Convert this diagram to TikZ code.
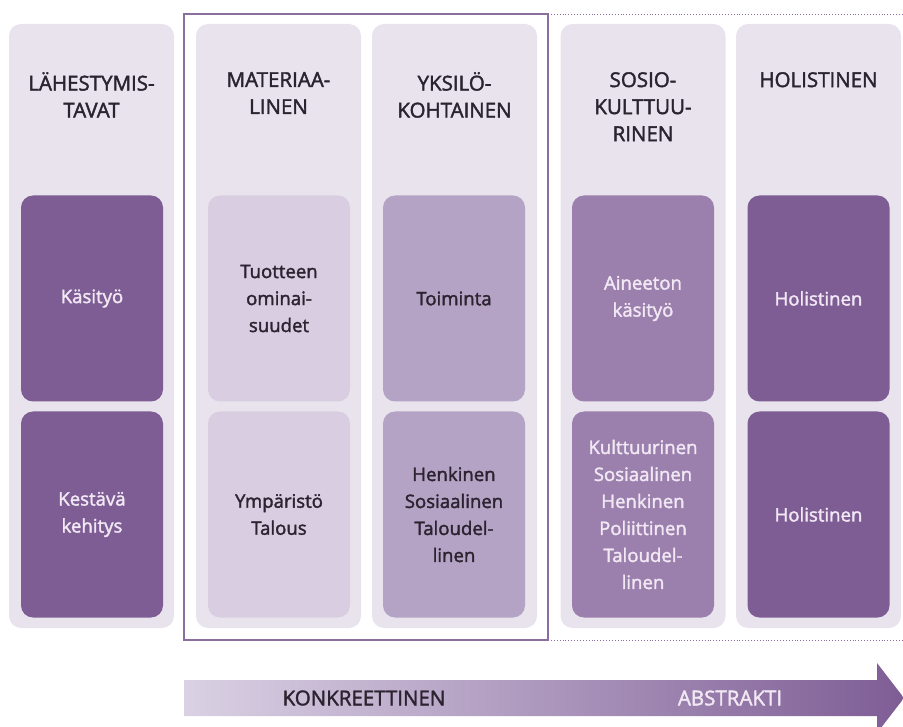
\documentclass[tikz,border=0pt]{standalone}
\usepackage{fontspec}
\setmainfont{Open Sans}
\newfontfamily\semib{Open Sans}[FakeBold=1.9]
\definecolor{colbg}{HTML}{E8E3EC}
\definecolor{tonedark}{HTML}{7E5D95}
\definecolor{tonemid}{HTML}{9B80AE}
\definecolor{tonesoft}{HTML}{B5A3C5}
\definecolor{tonepale}{HTML}{D8CDE1}
\definecolor{textlight}{HTML}{F1E8F4}
\definecolor{textdark}{HTML}{2B2330}
\definecolor{framecol}{HTML}{8A6E9E}
\definecolor{arrowlight}{HTML}{DAD1E4}
\begin{document}
\begin{tikzpicture}[x=1pt,y=-1pt]
        \tikzstyle{every node}=[inner sep=0pt, align=center, font=\semib\fontsize{18.6}{27}\selectfont]
        \tikzstyle{column}=[rectangle, rounded corners=12pt, fill=colbg, minimum width=165pt, minimum height=604pt]
        \tikzstyle{head}=[anchor=north, text=textdark, font=\semib\fontsize{20.5}{27}\selectfont]
        \tikzstyle{cell}=[rectangle, rounded corners=12pt, minimum width=142pt, minimum height=206pt]
        \tikzstyle{darkcell}=[cell, fill=tonedark, text=textlight]
        \tikzstyle{caps}=[font=\semib\fontsize{20.5}{27}\selectfont]
        \useasboundingbox (0,0) rectangle (903,727);
        \clip (0,0) rectangle (903,727);

        % columns
        \node[column] (lah) at (91.5,326) {};
        \node[column] (mat) at (278.5,326) {};
        \node[column] (yks) at (454.5,326) {};
        \node[column] (sos) at (643,326) {};
        \node[column] (hol) at (818.5,326) {};

        \node[head] (lah-h) at (91.5,72) {LÄHESTYMIS-\\TAVAT};
        \node[head] (mat-h) at (278.5,72) {MATERIAA-\\LINEN};
        \node[head] (yks-h) at (454.5,72) {YKSILÖ-\\KOHTAINEN};
        \node[head] (sos-h) at (643,72) {SOSIO-\\KULTTUU-\\RINEN};
        \node[head] (hol-h) at (818.5,72) {HOLISTINEN};

        % frame round the concrete part
        \draw[framecol, line width=1.8pt] (548,14) -- (184,14) -- (184,640) -- (548,640) -- cycle;
        \draw[framecol, line width=0.9pt, dotted] (548,14) -- (906,14);
        \draw[framecol, line width=0.9pt, dotted] (548,640) -- (906,640);

        % cells
        \node[darkcell] (kasityo) at (92,298.5) {Käsityö};
        \node[darkcell] (kestava) at (92,514.5) {Kestävä\\kehitys};

        \node[cell, fill=tonepale, text=textdark] (tuote) at (279,298.5) {Tuotteen\\ominai-\\suudet};
        \node[cell, fill=tonepale, text=textdark] (ymparisto) at (279,514.5) {Ympäristö\\Talous};

        \node[cell, fill=tonesoft, text=textdark] (toiminta) at (454,298.5) {Toiminta};
        \node[cell, fill=tonesoft, text=textdark] (henkinen) at (454,514.5) {Henkinen\\Sosiaalinen\\Taloudel-\\linen};

        \node[cell, fill=tonemid, text=textlight] (aineeton) at (643,298.5) {Aineeton\\käsityö};
        \node[cell, fill=tonemid, text=textlight] (kulttuuri) at (643,514.5) {Kulttuurinen\\Sosiaalinen\\Henkinen\\Poliittinen\\Taloudel-\\linen};

        \node[darkcell] (holist1) at (818.5,298.5) {Holistinen};
        \node[darkcell] (holist2) at (818.5,514.5) {Holistinen};

        % scale arrow
        \shade[left color=arrowlight, right color=tonedark]
            (184,680) -- (877,680) -- (877,663) -- (904,698) -- (877,733) -- (877,716) -- (184,716) -- cycle;
        \node[caps, text=textdark] (konkr) at (364,698) {KONKREETTINEN};
        \node[caps, text=textlight] (abstr) at (730,698) {ABSTRAKTI};
\end{tikzpicture}
\end{document}
